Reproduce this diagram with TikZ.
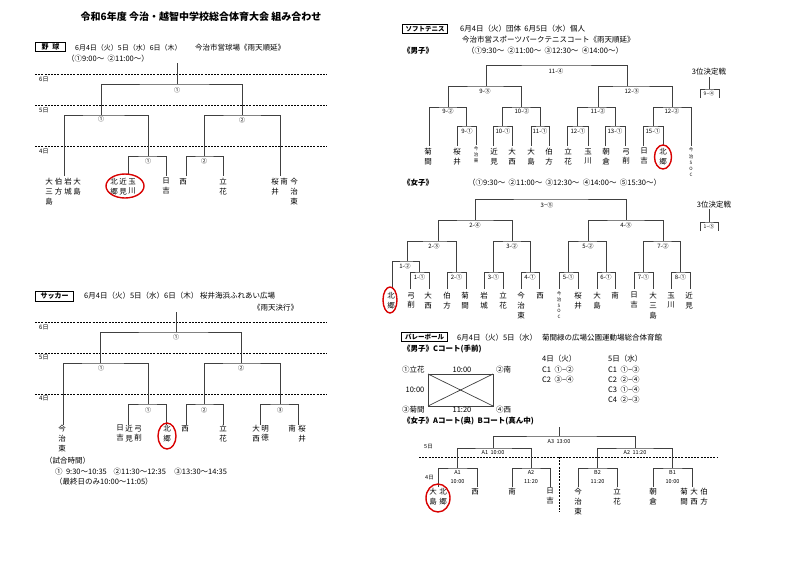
\documentclass[tikz,border=0pt]{standalone}
\usepackage{fontspec}
\setmainfont{Noto Sans CJK JP}
\usetikzlibrary{positioning}
\tikzset{
  bk/.style={draw=black!75, line width=0.7pt},
  dayline/.style={dashed, dash pattern=on 2pt off 1.2pt, line width=0.6pt},
  dayl/.style={anchor=west, inner sep=0pt, font=\fontsize{6}{7}\selectfont},
  rd/.style={inner sep=0.3pt, font=\fontsize{6}{7}\selectfont},
  rdv/.style={inner sep=0.3pt, align=center, font=\fontsize{5.5}{9}\selectfont},
  tm/.style={anchor=north, align=center, inner sep=0pt, font=\fontsize{7.5}{9.8}\selectfont},
  tmsmall/.style={anchor=north, align=center, inner sep=0pt, font=\fontsize{4.5}{5.6}\selectfont},
  txt/.style={anchor=west, inner sep=0pt, font=\fontsize{7.5}{9}\selectfont},
  txtb/.style={anchor=west, inner sep=0pt, font=\fontsize{7.5}{9}\selectfont\bfseries},
  sect/.style={draw, line width=1pt, inner sep=1pt, anchor=west, minimum height=9.5pt, font=\fontsize{7}{8}\selectfont\bfseries},
  redring/.style={draw=red!85!black, line width=1.4pt}
}
\begin{document}
\begin{tikzpicture}[x=1pt,y=-1pt]
\useasboundingbox (0,0) rectangle (800,565);
\fill[white] (0,0) rectangle (800,565);

\node[font=\fontsize{10}{12}\selectfont\bfseries] (title) at (201,17) {令和6年度 今治・越智中学校総合体育大会 組み合わせ};

% ===== 野球
\node[sect, minimum width=30pt] (bb) at (35,47) {野\hspace{4pt}球};
\node[txt, font=\fontsize{7}{8}\selectfont] (bbdate) at (75,48) {6月4日（火）5日（水）6日（木）};
\node[txt] (bbplace) at (195,48) {今治市営球場《雨天順延》};
\node[txt] (bbtime) at (67,59) {（①9:00〜\ \ ②11:00〜）};

\draw[dayline] (35,74) -- (327,74);
\draw[dayline] (35,105) -- (327,105);
\draw[dayline] (35,146) -- (327,146);
\node[dayl] (bd6) at (39,79) {6日};
\node[dayl] (bd5) at (39,110) {5日};
\node[dayl] (bd4) at (39,151) {4日};

\coordinate (bTop) at (177,63);
\coordinate (bF) at (177,84);
\coordinate (bS1) at (101,115);
\coordinate (bS2) at (242,115);
\coordinate (bQ1) at (148,156);
\coordinate (bQ2) at (204,156);
\coordinate (bT1) at (64,176);
\coordinate (bT2) at (128,175);
\coordinate (bT3) at (166,176);
\coordinate (bT4) at (186,176);
\coordinate (bT5) at (223,176);
\coordinate (bT6) at (280,176);
\draw[bk] (bTop) -- (bF);
\draw[bk] (bS1) |- (bF) -| (bS2);
\draw[bk] (bT1) |- (bS1) -| (bQ1);
\draw[bk] (bQ2) |- (bS2) -| (bT6);
\draw[bk] (bT2) |- (bQ1) -| (bT3);
\draw[bk] (bT4) |- (bQ2) -| (bT5);
\node[rd] (bFl) at (177,90) {①};
\node[rd] (bS1l) at (101,119.5) {①};
\node[rd] (bS2l) at (242,120.5) {②};
\node[rd] (bQ1l) at (148,161) {①};
\node[rd] (bQ2l) at (204,161) {②};

\node[tm] (bt1a) at (49,178) {大\\三\\島};
\node[tm] (bt1b) at (58.5,178) {伯\\方};
\node[tm] (bt1c) at (68,178) {岩\\城};
\node[tm] (bt1d) at (77,178) {大\\島};
\node[tm] (bt2a) at (114,178) {北\\郷};
\node[tm] (bt2b) at (123,178) {近\\見};
\node[tm] (bt2c) at (132,178) {玉\\川};
\node[tm] (bt3) at (166,178) {日\\吉};
\node[tm] (bt4) at (183,178) {西};
\node[tm] (bt5) at (223,178) {立\\花};
\node[tm] (bt6a) at (275,178) {桜\\井};
\node[tm] (bt6b) at (284,178) {南};
\node[tm] (bt6c) at (294,178) {今\\治\\東};
\draw[redring] (125,186) ellipse (19 and 12);

% ===== サッカー
\node[sect, minimum width=38pt] (sc) at (35,296.5) {サッカー};
\node[txt] (scdate) at (84,296) {6月4日（火）5日（水）6日（木）\ 桜井海浜ふれあい広場};
\node[txt] (scrain) at (253,308) {《雨天決行》};

\draw[dayline] (35,322) -- (327,322);
\draw[dayline] (35,353) -- (327,353);
\draw[dayline] (35,394) -- (327,394);
\node[dayl] (sd6) at (39,327) {6日};
\node[dayl] (sd5) at (39,357) {5日};
\node[dayl] (sd4) at (39,398) {4日};

\coordinate (sTop) at (176,312);
\coordinate (sF) at (176,332);
\coordinate (sS1) at (100,363);
\coordinate (sS2) at (241,363);
\coordinate (sQ1) at (148,404);
\coordinate (sQ2) at (204,404);
\coordinate (sQ3) at (280,404);
\coordinate (sT1) at (63,425);
\coordinate (sT2) at (128,425);
\coordinate (sT3) at (166,425);
\coordinate (sT4) at (186,425);
\coordinate (sT5) at (223,425);
\coordinate (sT6) at (260,425);
\coordinate (sT7) at (298,425);
\draw[bk] (sTop) -- (sF);
\draw[bk] (sS1) |- (sF) -| (sS2);
\draw[bk] (sT1) |- (sS1) -| (sQ1);
\draw[bk] (sQ2) |- (sS2) -| (sQ3);
\draw[bk] (sT2) |- (sQ1) -| (sT3);
\draw[bk] (sT4) |- (sQ2) -| (sT5);
\draw[bk] (sT6) |- (sQ3) -| (sT7);
\node[rd] (sFl) at (176,337.5) {①};
\node[rd] (sS1l) at (101,368.5) {①};
\node[rd] (sS2l) at (241,368.5) {②};
\node[rd] (sQ1l) at (148,410) {①};
\node[rd] (sQ2l) at (204,410) {②};
\node[rd] (sQ3l) at (280,410) {③};

\node[tm] (st1) at (62,425) {今\\治\\東};
\node[tm] (st2a) at (120,425) {日\\吉};
\node[tm] (st2b) at (129,425) {近\\見};
\node[tm] (st2c) at (138,425) {弓\\削};
\node[tm] (st3) at (167,425) {北\\郷};
\node[tm] (st4) at (185,425) {西};
\node[tm] (st5) at (223,425) {立\\花};
\node[tm] (st6a) at (256,425) {大\\西};
\node[tm] (st6b) at (265,425) {明\\徳};
\node[tm] (st7a) at (292,425) {南};
\node[tm] (st7b) at (302,425) {桜\\井};
\draw[redring] (167,436) ellipse (9 and 13);

\node[txt] (sctime) at (45,461) {（試合時間）};
\node[txt] (sctime1) at (55,472) {①\ \ 9:30〜10:35\ \ \ \ ②11:30〜12:35\ \ \ \ \ ③13:30〜14:35};
\node[txt] (sctime2) at (55,482) {（最終日のみ10:00〜11:05）};

% ===== ソフトテニス
\node[sect, minimum width=45pt, font=\fontsize{6.5}{8}\selectfont\bfseries] (st) at (402,29) {ソフトテニス};
\node[txt] (stdate) at (460,29) {6月4日（火）団体\ \ 6月5日（水）個人};
\node[txt] (stplace) at (462,40) {今治市営スポーツパークテニスコート《雨天順延》};
\node[txtb] (stboys) at (403,51) {《男子》};
\node[txt] (sttime) at (467,51) {（①9:30〜\ \ ②11:00〜\ \ ③12:30〜\ \ ④14:00〜）};

\coordinate (tF) at (556,65);
\coordinate (tS1) at (486,86);
\coordinate (tS2) at (627,86);
\coordinate (tQ1) at (448,107);
\coordinate (tQ2) at (521,107);
\coordinate (tQ3) at (598,107);
\coordinate (tQ4) at (672,107);
\coordinate (tR1) at (466.5,126);
\coordinate (tR2) at (502.5,126);
\coordinate (tR3) at (540,126);
\coordinate (tR4) at (577.5,126);
\coordinate (tR5) at (615,126);
\coordinate (tR6) at (653,126);
\coordinate (tT1) at (429,146);
\coordinate (tT2) at (457,146);
\coordinate (tT3) at (476,145);
\coordinate (tT4) at (493,146);
\coordinate (tT5) at (512,146);
\coordinate (tT6) at (531,146);
\coordinate (tT7) at (549,146);
\coordinate (tT8) at (567,146);
\coordinate (tT9) at (588,146);
\coordinate (tT10) at (605,146);
\coordinate (tT11) at (625,146);
\coordinate (tT12) at (643,146);
\coordinate (tT13) at (663,146);
\coordinate (tT14) at (691,146);
\draw[bk] (tS1) |- (tF) -| (tS2);
\draw[bk] (tQ1) |- (tS1) -| (tQ2);
\draw[bk] (tQ3) |- (tS2) -| (tQ4);
\draw[bk] (tT1) |- (tQ1) -| (tR1);
\draw[bk] (tR2) |- (tQ2) -| (tR3);
\draw[bk] (tR4) |- (tQ3) -| (tR5);
\draw[bk] (tR6) |- (tQ4) -| (tT14);
\draw[bk] (tT2) |- (tR1) -| (tT3);
\draw[bk] (tT4) |- (tR2) -| (tT5);
\draw[bk] (tT6) |- (tR3) -| (tT7);
\draw[bk] (tT8) |- (tR4) -| (tT9);
\draw[bk] (tT10) |- (tR5) -| (tT11);
\draw[bk] (tT12) |- (tR6) -| (tT13);
\node[rd] (tFl) at (556,71) {11-④};
\node[rd] (tS1l) at (485,91) {9-③};
\node[rd] (tS2l) at (632,91) {12-③};
\node[rd] (tQ1l) at (448,111.5) {9-②};
\node[rd] (tQ2l) at (522,111.5) {10-②};
\node[rd] (tQ3l) at (598,111.5) {11-②};
\node[rd] (tQ4l) at (672,111.5) {12-②};
\node[rd] (tR1l) at (467,131) {9-①};
\node[rd] (tR2l) at (503,131) {10-①};
\node[rd] (tR3l) at (540,131) {11-①};
\node[rd] (tR4l) at (578,131) {12-①};
\node[rd] (tR5l) at (615,131) {13-①};
\node[rd] (tR6l) at (653,131) {15-①};

\node[tm] (tt1) at (428,148) {菊\\間};
\node[tm] (tt2) at (457,148) {桜\\井};
\node[tmsmall] (tt3) at (476,147) {今\\治\\東};
\node[tm] (tt4) at (494,148) {近\\見};
\node[tm] (tt5) at (512,148) {大\\西};
\node[tm] (tt6) at (531,148) {大\\島};
\node[tm] (tt7) at (549,148) {伯\\方};
\node[tm] (tt8) at (568,148) {立\\花};
\node[tm] (tt9) at (588,148) {玉\\川};
\node[tm] (tt10) at (606,148) {朝\\倉};
\node[tm] (tt11) at (626,148) {弓\\削};
\node[tm] (tt12) at (644,148) {日\\吉};
\node[tm] (tt13) at (663,148) {北\\郷};
\node[tmsmall, font=\fontsize{4.5}{6.2}\selectfont] (tt14) at (691,148) {今\\治\\S\\O\\C};
\draw[redring] (663,157) ellipse (8.5 and 12);

\node[txt, anchor=center] (t3rd) at (709,72) {3位決定戦};
\coordinate (t3top) at (709,77);
\coordinate (t3m) at (709,89);
\coordinate (t3l) at (700,98);
\coordinate (t3r) at (719,98);
\draw[bk] (t3top) -- (t3m);
\draw[bk] (t3l) |- (t3m) -| (t3r);
\node[rd, font=\fontsize{5}{6}\selectfont] (t3l1) at (709,94) {9−④};

\node[txtb] (stgirls) at (403,183) {《女子》};
\node[txt] (sttime2) at (468,183) {（①9:30〜\ \ ②11:00〜\ \ ③12:30〜\ \ ④14:00〜\ \ ⑤15:30〜）};

\coordinate (g35) at (551,199);
\coordinate (g24) at (475,220);
\coordinate (g43) at (626,220);
\coordinate (g23) at (438,241);
\coordinate (g32) at (512,241);
\coordinate (g52) at (588,241);
\coordinate (g72) at (663,241);
\coordinate (g12) at (407,261);
\coordinate (g11) at (419.5,272);
\coordinate (g21) at (456.5,272);
\coordinate (g31) at (493.5,272);
\coordinate (g41) at (530,272);
\coordinate (g51) at (568.5,272);
\coordinate (g61) at (606,272);
\coordinate (g71) at (643.5,272);
\coordinate (g81) at (680.5,272);
\coordinate (gT1) at (392,289);
\coordinate (gT2) at (410,289);
\coordinate (gT3) at (429,289);
\coordinate (gT4) at (447,289);
\coordinate (gT5) at (466,289);
\coordinate (gT6) at (484,289);
\coordinate (gT7) at (503,289);
\coordinate (gT8) at (521,289);
\coordinate (gT9) at (539,289);
\coordinate (gT10) at (559,289);
\coordinate (gT11) at (578,289);
\coordinate (gT12) at (597,289);
\coordinate (gT13) at (615,289);
\coordinate (gT14) at (634,289);
\coordinate (gT15) at (653,289);
\coordinate (gT16) at (671,289);
\coordinate (gT17) at (690,289);
\draw[bk] (g24) |- (g35) -| (g43);
\draw[bk] (g23) |- (g24) -| (g32);
\draw[bk] (g52) |- (g43) -| (g72);
\draw[bk] (g12) |- (g23) -| (g21);
\draw[bk] (g31) |- (g32) -| (g41);
\draw[bk] (g51) |- (g52) -| (g61);
\draw[bk] (g71) |- (g72) -| (g81);
\draw[bk] (gT1) |- (g12) -| (g11);
\draw[bk] (gT2) |- (g11) -| (gT3);
\draw[bk] (gT4) |- (g21) -| (gT5);
\draw[bk] (gT6) |- (g31) -| (gT7);
\draw[bk] (gT8) |- (g41) -| (gT9);
\draw[bk] (gT10) |- (g51) -| (gT11);
\draw[bk] (gT12) |- (g61) -| (gT13);
\draw[bk] (gT14) |- (g71) -| (gT15);
\draw[bk] (gT16) |- (g81) -| (gT17);
\node[rd] (g35l) at (547,205) {3−⑤};
\node[rd] (g24l) at (475,225.5) {2-④};
\node[rd] (g43l) at (626,225.5) {4-③};
\node[rd] (g23l) at (434,246) {2-③};
\node[rd] (g32l) at (512,246) {3-②};
\node[rd] (g52l) at (588,246) {5-②};
\node[rd] (g72l) at (663,246) {7-②};
\node[rd] (g12l) at (405,266) {1-②};
\node[rd] (g11l) at (419.5,277) {1-①};
\node[rd] (g21l) at (456.5,277) {2-①};
\node[rd] (g31l) at (493.5,277) {3-①};
\node[rd] (g41l) at (530,277) {4-①};
\node[rd] (g51l) at (568.5,277) {5-①};
\node[rd] (g61l) at (606,277) {6-①};
\node[rd] (g71l) at (643.5,277) {7-①};
\node[rd] (g81l) at (680.5,277) {8-①};

\node[tm] (gt1) at (391,292) {北\\郷};
\node[tm] (gt2) at (411,292) {弓\\削};
\node[tm] (gt3) at (428,292) {大\\西};
\node[tm] (gt4) at (447,292) {伯\\方};
\node[tm] (gt5) at (465,292) {菊\\間};
\node[tm] (gt6) at (484,292) {岩\\城};
\node[tm] (gt7) at (503,292) {立\\花};
\node[tm] (gt8) at (521,292) {今\\治\\東};
\node[tm] (gt9) at (540,292) {西};
\node[tmsmall] (gt10) at (559,292) {今\\治\\S\\O\\C};
\node[tm] (gt11) at (578,292) {桜\\井};
\node[tm] (gt12) at (597,292) {大\\島};
\node[tm] (gt13) at (615,292) {南};
\node[tm] (gt14) at (634,292) {日\\吉};
\node[tm] (gt15) at (653,292) {大\\三\\島};
\node[tm] (gt16) at (671,292) {玉\\川};
\node[tm] (gt17) at (689,292) {近\\見};
\draw[redring] (390,300) ellipse (7 and 13);

\node[txt, anchor=center] (g3rd) at (714,205) {3位決定戦};
\coordinate (g3top) at (709,209);
\coordinate (g3m) at (709,222);
\coordinate (g3l) at (700,231);
\coordinate (g3r) at (718,231);
\draw[bk] (g3top) -- (g3m);
\draw[bk] (g3l) |- (g3m) -| (g3r);
\node[rd, font=\fontsize{5}{6}\selectfont] (g3l1) at (709,227) {1−⑤};

% ===== バレーボール
\node[sect, minimum width=46pt, font=\fontsize{6.5}{8}\selectfont\bfseries] (vb) at (401,337) {バレーボール};
\node[txt] (vbdate) at (457,338) {6月4日（火）5日（水）};
\node[txt] (vbplace) at (542,338) {菊間緑の広場公園運動場総合体育館};
\node[txtb] (vbboys) at (403,349) {《男子》Cコート(手前)};

\coordinate (c1) at (428,374);
\coordinate (c2) at (493,374);
\coordinate (c3) at (493,406);
\coordinate (c4) at (428,406);
\draw[bk] (c1) rectangle (c3);
\draw[bk] (c1) -- (c3);
\draw[bk] (c2) -- (c4);
\node[txt] (vp1) at (402,370) {①立花};
\node[txt] (vp2) at (496,370) {②南};
\node[txt] (vp3) at (402,410) {③菊間};
\node[txt] (vp4) at (496,410) {④西};
\node[txt, anchor=center] (vt1) at (462,370) {10:00};
\node[txt, anchor=center] (vt2) at (415,390) {10:00};
\node[txt, anchor=center] (vt3) at (462,410) {11:20};

\node[txt] (vd4) at (542,359) {4日（火）};
\node[txt] (vd4a) at (542,370) {C1\ \ ①−②};
\node[txt] (vd4b) at (542,380) {C2\ \ ③−④};
\node[txt] (vd5) at (608,359) {5日（水）};
\node[txt] (vd5a) at (608,370) {C1\ \ ①−③};
\node[txt] (vd5b) at (608,380) {C2\ \ ②−④};
\node[txt] (vd5c) at (608,390) {C3\ \ ①−④};
\node[txt] (vd5d) at (608,400) {C4\ \ ②−③};

\node[txtb] (vbgirls) at (403,421) {《女子》Aコート(奥)\ \ Bコート(真ん中)};

\draw[dayline] (419,457) -- (718,457);
\draw[dayline] (559,457) -- (559,512);
\node[dayl, font=\fontsize{5.5}{6}\selectfont] (vd5l) at (424,447) {5日};
\node[dayl, font=\fontsize{5.5}{6}\selectfont] (vd4l) at (425,478) {4日};

\coordinate (vTop) at (559,427);
\coordinate (vF) at (559,436);
\coordinate (vS1) at (493,448);
\coordinate (vS2) at (635,448);
\coordinate (vQ1) at (457.5,468);
\coordinate (vQ2) at (531,468);
\coordinate (vQ3) at (597.5,468);
\coordinate (vQ4) at (672.5,468);
\coordinate (vT1) at (438,487);
\coordinate (vT2) at (477,487);
\coordinate (vT3) at (512,487);
\coordinate (vT4) at (550,487);
\coordinate (vT5) at (578,487);
\coordinate (vT6) at (617,487);
\coordinate (vT7) at (653,487);
\coordinate (vT8) at (692,487);
\draw[bk] (vTop) -- (vF);
\draw[bk] (vS1) |- (vF) -| (vS2);
\draw[bk] (vQ1) |- (vS1) -| (vQ2);
\draw[bk] (vQ3) |- (vS2) -| (vQ4);
\draw[bk] (vT1) |- (vQ1) -| (vT2);
\draw[bk] (vT3) |- (vQ2) -| (vT4);
\draw[bk] (vT5) |- (vQ3) -| (vT6);
\draw[bk] (vT7) |- (vQ4) -| (vT8);
\node[rdv] (vFl) at (559,442) {A3\ \ 13:00};
\node[rdv] (vS1l) at (493,453) {A1\ \ 10:00};
\node[rdv] (vS2l) at (635,453) {A2\ \ 11:20};
\node[rdv] (vQ1l) at (457.5,477.5) {A1\\10:00};
\node[rdv] (vQ2l) at (531,477.5) {A2\\11:20};
\node[rdv] (vQ3l) at (597.5,477.5) {B2\\11:20};
\node[rdv] (vQ4l) at (672.5,477.5) {B1\\10:00};

\node[tm] (vt1a) at (433,488) {大\\島};
\node[tm] (vt1b) at (443,488) {北\\郷};
\node[tm] (vt2) at (475,488) {西};
\node[tm] (vt3) at (512,488) {南};
\node[tm] (vt4) at (550,488) {日\\吉};
\node[tm] (vt5) at (578,488) {今\\治\\東};
\node[tm] (vt6) at (617,488) {立\\花};
\node[tm] (vt7) at (653,488) {朝\\倉};
\node[tm] (vt8a) at (684,488) {菊\\間};
\node[tm] (vt8b) at (694,488) {大\\西};
\node[tm] (vt8c) at (704,488) {伯\\方};
\draw[redring] (438,498) ellipse (12 and 14);
\end{tikzpicture}
\end{document}
